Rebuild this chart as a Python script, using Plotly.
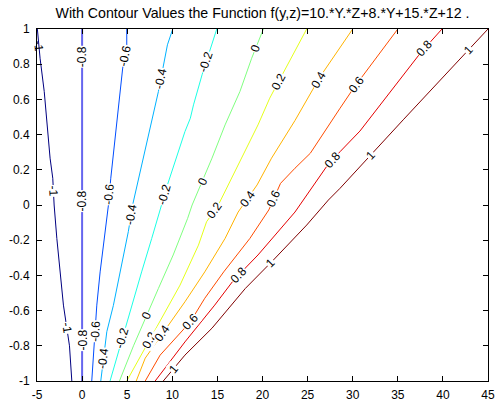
import numpy as np
import plotly.graph_objects as go

title_text = "With Contour Values the Function f(y,z)=10.*Y.*Z+8.*Y+15.*Z+12 ."
levels = [-1.0, -0.8, -0.6, -0.4, -0.2, 0.0, 0.2, 0.4, 0.6, 0.8, 1.0]
x_ticks = [-5, 0, 5, 10, 15, 20, 25, 30, 35, 40, 45]
y_ticks = [-1, -0.8, -0.6, -0.4, -0.2, 0, 0.2, 0.4, 0.6, 0.8, 1]

# contour lines (x, y)
c_m10_x = [-1.14, -1.4, -2.07, -2.44, -2.8, -3.1, -3.25, -3.55, -3.85, -4.2, -4.66, -4.96]
c_m10_y = [-1.0, -0.8, -0.569, -0.38, -0.19, 0.0, 0.152, 0.266, 0.455, 0.645, 0.834, 1.0]
c_m08_x = [0.0, 0.0]
c_m08_y = [-1.0, 1.0]
c_m06_x = [1.07, 1.63, 2.0, 2.44, 2.92, 3.18, 3.6, 3.96, 4.5, 4.95, 4.95]
c_m06_y = [-1.0, -0.569, -0.38, -0.19, 0.0, 0.152, 0.36, 0.53, 0.778, 0.89, 1.0]
c_m04_x = [2.07, 2.74, 3.47, 4.2, 5.13, 5.6, 6.8, 7.65, 8.46, 9.46, 10.05]
c_m04_y = [-1.0, -0.72, -0.57, -0.38, -0.15, 0.0, 0.266, 0.455, 0.645, 0.91, 1.0]
c_m02_x = [3.1, 5.5, 6.6, 7.72, 8.83, 9.46, 11.4, 12.0, 12.35, 13.3, 14.93]
c_m02_y = [-1.0, -0.569, -0.38, -0.19, 0.0, 0.114, 0.417, 0.493, 0.569, 0.74, 1.0]
c_000_x = [4.14, 5.7, 8.46, 10.1, 11.7, 12.2, 14.4, 15.85, 17.5, 18.8, 20.1]
c_000_y = [-1.0, -0.8, -0.474, -0.284, -0.076, 0.0, 0.266, 0.455, 0.645, 0.834, 1.0]
c_p02_x = [4.95, 9.0, 10.86, 12.9, 13.8, 15.1, 17.7, 19.5, 20.8, 23.6, 24.9]
c_p02_y = [-1.0, -0.626, -0.455, -0.228, -0.095, 0.0, 0.266, 0.455, 0.607, 0.88, 1.0]
c_p04_x = [6.0, 7.0, 11.4, 13.6, 15.85, 17.3, 19.4, 21.0, 23.6, 26.4, 30.0]
c_p04_y = [-1.0, -0.87, -0.55, -0.38, -0.19, -0.04, 0.114, 0.266, 0.48, 0.73, 1.0]
c_p06_x = [7.0, 8.65, 12.0, 13.6, 15.7, 18.6, 20.7, 22.0, 23.6, 25.3, 28.6, 30.1, 35.0]
c_p06_y = [-1.0, -0.853, -0.664, -0.53, -0.38, -0.19, -0.028, 0.123, 0.209, 0.294, 0.55, 0.664, 1.0]
c_p08_x = [8.1, 11.4, 14.7, 16.8, 19.5, 23.6, 27.1, 28.6, 30.8, 37.5, 39.9]
c_p08_y = [-1.0, -0.778, -0.569, -0.427, -0.284, -0.04, 0.218, 0.303, 0.42, 0.863, 1.0]
c_p10_x = [9.0, 11.4, 14.4, 18.1, 21.2, 23.6, 24.9, 27.3, 28.6, 35.6, 45.0]
c_p10_y = [-1.0, -0.853, -0.70, -0.474, -0.313, -0.18, -0.114, 0.028, 0.095, 0.484, 1.0]

lines_x = [c_m10_x, c_m08_x, c_m06_x, c_m04_x, c_m02_x, c_000_x, c_p02_x, c_p04_x, c_p06_x, c_p08_x, c_p10_x]
lines_y = [c_m10_y, c_m08_y, c_m06_y, c_m04_y, c_m02_y, c_000_y, c_p02_y, c_p04_y, c_p06_y, c_p08_y, c_p10_y]

# inline labels: level index and the y where the label sits on that line
label_level = [0, 0, 0, 1, 1, 1, 2, 2, 2, 3, 3, 3, 4, 4, 4, 5, 5, 5, 6, 6, 6, 7, 7, 7, 8, 8, 8, 9, 9, 9, 10, 10, 10, 10]
label_y = [0.90, 0.08, -0.70,
           0.84, 0.02, -0.77,
           0.845, 0.06, -0.72,
           0.72, -0.057, -0.872,
           0.81, 0.06, -0.758,
           0.89, 0.133, -0.626,
           0.70, -0.03, -0.768,
           0.711, 0.035, -0.73,
           0.683, 0.038, -0.665,
           0.89, 0.256, -0.398,
           0.88, 0.284, -0.33, -0.93]

W, H = 496, 402
ML, MR, MT, MB = 37, 8, 29, 21
XR = [-5, 45]
YR = [-1, 1]
sx = (W - ML - MR) / (XR[1] - XR[0])
sy = (H - MT - MB) / (YR[1] - YR[0])
FONT = "Arial, Liberation Sans, Helvetica, sans-serif"


def jet(t):
    r = min(max(1.5 - abs(4 * t - 3), 0), 1)
    g = min(max(1.5 - abs(4 * t - 2), 0), 1)
    b = min(max(1.5 - abs(4 * t - 1), 0), 1)
    return int(round(r * 255)), int(round(g * 255)), int(round(b * 255))


def fmt(v):
    if abs(v) < 1e-9:
        return "0"
    if abs(v - round(v)) < 1e-9:
        return str(int(round(v)))
    return f"{v:g}"


fig = go.Figure()
for i, lv in enumerate(levels):
    r, g, b = jet((lv - levels[0]) / (levels[-1] - levels[0]))
    if lv == -0.8:
        col, wd = f"rgba({r},{g},{b},0.6)", 2
    else:
        col, wd = f"rgb({r},{g},{b})", 1
    fig.add_trace(go.Scatter(x=lines_x[i], y=lines_y[i], mode="lines",
                             line=dict(color=col, width=wd), hoverinfo="skip",
                             showlegend=False))

for li, ly in zip(label_level, label_y):
    xs = np.array(lines_x[li], dtype=float)
    ys = np.array(lines_y[li], dtype=float)
    lx = float(np.interp(ly, ys, xs))
    k = int(np.searchsorted(ys, ly))
    k = min(max(k, 1), len(ys) - 1)
    dx = (xs[k] - xs[k - 1]) * sx
    dy = (ys[k] - ys[k - 1]) * sy
    ang = np.degrees(np.arctan2(dy, dx))
    if ang > 90:
        ang -= 180
    elif ang <= -90:
        ang += 180
    clipped = lx < XR[0] + 0.3
    fig.add_annotation(x=lx, y=ly, text=fmt(levels[li]), showarrow=False,
                       textangle=-ang, font=dict(size=12, color="black", family=FONT),
                       bgcolor=None if clipped else "white", borderpad=0)

axis_common = dict(showline=True, linecolor="black", linewidth=1, mirror="ticks",
                   ticks="inside", ticklen=5, tickcolor="black", showgrid=False,
                   zeroline=False, automargin=False,
                   tickfont=dict(size=12, color="black", family=FONT))
fig.update_xaxes(range=XR, tickvals=x_ticks, ticktext=[fmt(v) for v in x_ticks],
                 ticklabelstandoff=3, **axis_common)
fig.update_yaxes(range=YR, tickvals=y_ticks, ticktext=[fmt(v) for v in y_ticks],
                 ticklabelstandoff=4, **axis_common)

fig.update_layout(
    width=W, height=H, margin=dict(l=ML, r=MR, t=MT, b=MB, autoexpand=False),
    paper_bgcolor="white", plot_bgcolor="white",
    title=dict(text=title_text, x=(ML + (W - ML - MR) / 2) / W, xanchor="center",
               y=1 - 13 / H, yanchor="middle",
               font=dict(size=14.2, color="black", family=FONT)),
    showlegend=False,
)

fig.write_html("out.html")
